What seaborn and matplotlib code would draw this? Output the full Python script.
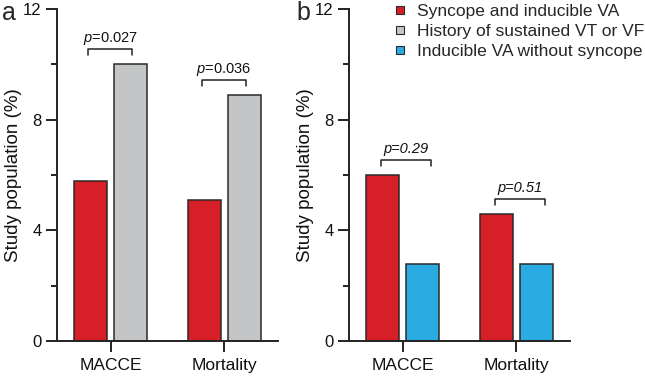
import matplotlib
matplotlib.use("Agg")
import matplotlib.pyplot as plt
from matplotlib.lines import Line2D
import seaborn as sns
import pandas as pd

categories = ["MACCE", "Mortality"]
groups = ["Syncope and inducible VA", "History of sustained VT or VF", "Inducible VA without syncope"]
colors = {"Syncope and inducible VA": "#d71f27",
          "History of sustained VT or VF": "#c3c5c7",
          "Inducible VA without syncope": "#2aace2"}

syncope_a = [5.8, 5.1]
history_a = [10.0, 8.9]
syncope_b = [6.0, 4.6]
inducible_b = [2.8, 2.8]

p_a = ["0.027", "0.036"]
p_b = ["0.29", "0.51"]

sns.set_theme(style="ticks")
plt.rcParams['font.family'] = ['Liberation Sans', 'DejaVu Sans']
plt.rcParams['mathtext.fontset'] = 'custom'
plt.rcParams['mathtext.it'] = 'Liberation Sans:italic'
plt.rcParams['mathtext.rm'] = 'Liberation Sans'

W, H = 645, 376
fig = plt.figure(figsize=(W / 100, H / 100), dpi=100)

def px_axes(left, right, bottom, top):
    return fig.add_axes([left / W, (H - bottom) / H, (right - left) / W, (bottom - top) / H])

ax_a = px_axes(57, 278, 341, 9)
ax_b = px_axes(349, 570, 341, 9)

df_a = pd.DataFrame({"cat": categories * 2,
                     "grp": [groups[0]] * 2 + [groups[1]] * 2,
                     "val": syncope_a + history_a})
df_b = pd.DataFrame({"cat": categories * 2,
                     "grp": [groups[0]] * 2 + [groups[2]] * 2,
                     "val": syncope_b + inducible_b})

for ax, df, order, pvals, italic_all, (x0, x1) in [
        (ax_a, df_a, [groups[0], groups[1]], p_a, False, (-0.20, 0.19)),
        (ax_b, df_b, [groups[0], groups[2]], p_b, True, (-0.19, 0.25))]:
    sns.barplot(data=df, x="cat", y="val", hue="grp", hue_order=order,
                palette=colors, width=0.7, gap=0.18, edgecolor="#2a2a2a",
                linewidth=1.1, ax=ax, legend=False, saturation=1)
    ax.set_xlim(-0.47, 1.47)
    ax.set_ylim(0, 12)
    ax.set_yticks([0, 4, 8, 12])
    ax.set_yticks([2, 6, 10], minor=True)
    ax.set_xlabel("")
    ax.set_ylabel("Study population (%)", fontsize=13.5, labelpad=1, color="#111111")
    for s in ["top", "right"]:
        ax.spines[s].set_visible(False)
    for s in ["left", "bottom"]:
        ax.spines[s].set_linewidth(1.4)
        ax.spines[s].set_color("#222222")
    ax.tick_params(axis="y", which="major", length=8, width=1.4, color="#222222",
                   labelsize=12, pad=3, labelcolor="#111111")
    ax.tick_params(axis="x", which="major", length=8, width=1.4, color="#222222",
                   labelsize=12.5, pad=4, labelcolor="#111111")
    ax.tick_params(axis="y", which="minor", length=4, width=1.4, color="#222222")
    ax.tick_params(axis="x", which="minor", length=0)
    ax.patch.set_alpha(0)

    maxes = df.groupby("cat", sort=False)["val"].max().tolist()
    for i, (m, p) in enumerate(zip(maxes, pvals)):
        yb = m + 0.55
        ax.plot([i + x0, i + x0, i + x1, i + x1], [yb - 0.22, yb, yb, yb - 0.22],
                color="#222222", lw=1.1, clip_on=False)
        xc = i + (x0 + x1) / 2
        if italic_all:
            ax.text(xc, yb + 0.25, f"p={p}", style="italic", ha="center", va="baseline",
                    fontsize=10.5, color="#111111")
        else:
            ax.text(xc, yb + 0.25, r"$\it{p}$" + f"={p}", ha="center", va="baseline",
                    fontsize=10.5, color="#111111")

fig.text(2 / W, (H - 19.5) / H, "a", fontsize=18, ha="left", va="baseline")
fig.text(296 / W, (H - 19.5) / H, "b", fontsize=18, ha="left", va="baseline")

handles = [Line2D([], [], marker="s", linestyle="none", markersize=6,
                  markerfacecolor=colors[g], markeredgecolor="#2a2a2a", markeredgewidth=0.8)
           for g in groups]
fig.legend(handles, groups, loc="upper left", bbox_to_anchor=(393 / W, 1 - 4 / H),
           frameon=False, fontsize=12.5, handlelength=0.8, handletextpad=0.6,
           labelspacing=0.28, borderpad=0, borderaxespad=0)

fig.savefig("out.png", dpi=100)
